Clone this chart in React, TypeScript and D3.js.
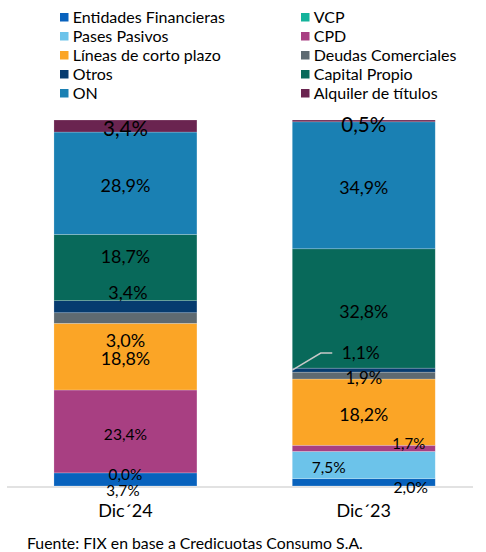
import React from "react";
import * as d3 from "d3";

const categories = ["Dic´24", "Dic´23"];
const seriesNames = [
  "Entidades Financieras",
  "VCP",
  "Pases Pasivos",
  "CPD",
  "Líneas de corto plazo",
  "Deudas Comerciales",
  "Otros",
  "Capital Propio",
  "ON",
  "Alquiler de títulos",
];
const dic24Values = [3.7, 0.0, 0.0, 23.4, 18.8, 3.0, 3.4, 18.7, 28.9, 3.4];
const dic23Values = [2.0, 0.0, 7.5, 1.7, 18.2, 1.9, 1.1, 32.8, 34.9, 0.5];
const colors = [
  "#0862bd",
  "#14b39b",
  "#6cc3ea",
  "#a83f82",
  "#fba526",
  "#5e6a71",
  "#063b6f",
  "#08695a",
  "#1a80b3",
  "#6a2450",
];
const footer = "Fuente: FIX en base a Credicuotas Consumo S.A.";

// label layout (offsets from segment centre, font size) — [category][series]
type LabelCfg = { show: boolean; dx: number; dy: number; fs: number };
const L = (show: boolean, dx: number, dy: number, fs: number): LabelCfg => ({ show, dx, dy, fs });
const labelLayout: LabelCfg[][] = [
  [
    L(true, -2.5, 10.8, 15.2),
    L(true, 0, 2, 15.4),
    L(false, 0, 0, 15),
    L(true, 0, 2.5, 15.6),
    L(true, 0, 2.3, 17.9),
    L(true, 0, 22, 18),
    L(true, 2.5, -14, 17.9),
    L(true, 0, -11, 17.9),
    L(true, 0, 2.7, 18),
    L(true, 0, 3, 20.5),
  ],
  [
    L(true, 47, 5, 15.8),
    L(false, 0, 0, 15),
    L(true, -35, 2.7, 15.5),
    L(true, 45, -4.3, 15),
    L(true, 0, 2.9, 17.8),
    L(true, 0, 2.8, 16.8),
    L(true, -3, -17, 17.4),
    L(true, 0, 3.2, 17.8),
    L(true, 0, 2.7, 17.8),
    L(true, 0, 4, 20.6),
  ],
];

const W = 486;
const H = 552;
const FONT = "Lato, 'Open Sans', sans-serif";

export default function App() {
  const table = categories.map((c, i) => {
    const vals = i === 0 ? dic24Values : dic23Values;
    const row: Record<string, any> = { cat: c };
    seriesNames.forEach((s, j) => (row[s] = vals[j]));
    return row;
  });

  const stack = d3.stack<any>().keys(seriesNames).offset(d3.stackOffsetExpand);
  const layers = stack(table);

  const x = d3
    .scaleBand<string>()
    .domain(categories)
    .range([6.3, 482.9])
    .paddingInner(0.4)
    .paddingOuter(0.2);
  const y = d3.scaleLinear().domain([0, 1]).range([486, 120]);

  const fmt = (v: number) => d3.format(".1f")(v).replace(".", ",") + "%";

  const legendX = [60, 301];
  const legendY0 = 17.5;
  const legendDy = 19;

  // leader line for Otros Dic´23
  const otrosIdx = seriesNames.indexOf("Otros");
  const otrosSeg = layers[otrosIdx][1];
  const otrosMid = y((otrosSeg[0] + otrosSeg[1]) / 2);
  const bx1 = x(categories[1])!;
  const bc1 = bx1 + x.bandwidth() / 2;
  const otrosLab = labelLayout[1][otrosIdx];
  const labY = otrosMid + otrosLab.dy;

  return (
    <svg
      width={W}
      height={H}
      style={{ position: "absolute", left: 0, top: 0, background: "#fff" }}
      fontFamily={FONT}
    >
      {/* legend */}
      {seriesNames.map((s, i) => {
        const col = i % 2;
        const row = Math.floor(i / 2);
        const lx = legendX[col];
        const ly = legendY0 + row * legendDy;
        return (
          <g key={s}>
            <rect x={lx} y={ly - 4.5} width={8.5} height={8.5} fill={colors[i]} />
            <text x={lx + 12.7} y={ly} dy="0.36em" fontSize={16} fill="#000">
              {s}
            </text>
          </g>
        );
      })}

      {/* axis line */}
      <line x1={7} x2={473} y1={487} y2={487} stroke="#d9d9d9" strokeWidth={1.5} />

      {/* bars */}
      {layers.map((layer, si) =>
        layer.map((seg, ci) => {
          const h = y(seg[0]) - y(seg[1]);
          if (h <= 0) return null;
          return (
            <rect
              key={`${si}-${ci}`}
              x={x(categories[ci])}
              y={y(seg[1])}
              width={x.bandwidth()}
              height={h}
              fill={colors[si]}
              stroke="#ffffff"
              strokeOpacity={0.35}
              strokeWidth={0.6}
            />
          );
        })
      )}

      {/* leader line */}
      <polyline
        points={`${bx1},${otrosMid} ${bc1 - 43},${labY} ${bc1 - 31.5},${labY}`}
        fill="none"
        stroke="#c8c8c8"
        strokeWidth={1.5}
      />

      {/* labels */}
      {layers.map((layer, si) =>
        layer.map((seg, ci) => {
          const cfg = labelLayout[ci][si];
          if (!cfg.show) return null;
          const vals = ci === 0 ? dic24Values : dic23Values;
          const cx = x(categories[ci])! + x.bandwidth() / 2 + cfg.dx;
          const cy = y((seg[0] + seg[1]) / 2) + cfg.dy;
          return (
            <text
              key={`l${si}-${ci}`}
              x={cx}
              y={cy}
              dy="0.36em"
              textAnchor="middle"
              fontSize={cfg.fs}
              fill="#000"
            >
              {fmt(vals[si])}
            </text>
          );
        })
      )}

      {/* category labels */}
      {categories.map((c) => (
        <text
          key={c}
          x={x(c)! + x.bandwidth() / 2}
          y={511}
          dy="0.36em"
          textAnchor="middle"
          fontSize={18}
          fill="#000"
        >
          {c}
        </text>
      ))}

      {/* footer */}
      <text x={27} y={543} dy="0.36em" fontSize={15.8} fill="#000">
        {footer}
      </text>
    </svg>
  );
}
